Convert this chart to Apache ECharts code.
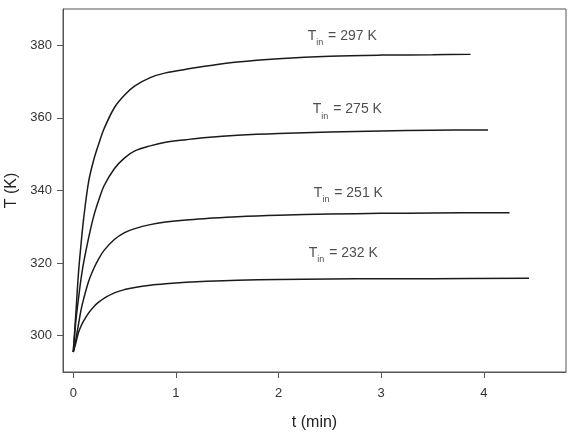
<!DOCTYPE html>
<html>
<head>
<meta charset="utf-8">
<script src="https://cdn.jsdelivr.net/npm/echarts@6/dist/echarts.min.js"></script>
<style>
    html, body { margin: 0; padding: 0; background: #fff; }
    #chart { width: 574px; height: 432px; }
</style>
</head>
<body>
<div id="chart"></div>
<script>
    // time points (min) and temperatures (K) for each inlet temperature
    var tA = [0, 0.025, 0.05, 0.075, 0.1, 0.15, 0.2, 0.25, 0.3, 0.4, 0.5, 0.6, 0.75, 0.9, 1.1, 1.3, 1.6, 2.0, 2.5, 3.0, 3.5, 3.87]
    var tempA = [295.5, 306, 317, 325, 332, 342.5, 348.5, 353, 357, 362.8, 366.3, 368.8, 371.1, 372.4, 373.4, 374.3, 375.4, 376.3, 377, 377.3, 377.4, 377.5]

    var tB = [0, 0.025, 0.05, 0.075, 0.1, 0.15, 0.2, 0.25, 0.3, 0.4, 0.5, 0.6, 0.75, 0.9, 1.1, 1.3, 1.6, 2.0, 2.5, 3.0, 3.5, 4.04]
    var tempB = [295.5, 304, 310, 315.5, 320, 327, 333, 337.5, 341.3, 346, 349, 350.9, 352.3, 353.3, 354, 354.6, 355.2, 355.7, 356.1, 356.4, 356.6, 356.7]

    var tC = [0, 0.025, 0.05, 0.075, 0.1, 0.15, 0.2, 0.25, 0.3, 0.4, 0.5, 0.6, 0.75, 0.9, 1.1, 1.3, 1.6, 2.0, 2.5, 3.0, 3.5, 4.25]
    var tempC = [295.5, 299, 303, 307, 310, 315, 318.5, 321.3, 323.5, 326.5, 328.4, 329.5, 330.6, 331.3, 331.9, 332.3, 332.8, 333.2, 333.5, 333.7, 333.8, 333.9]

    var tD = [0, 0.025, 0.05, 0.075, 0.1, 0.15, 0.2, 0.25, 0.3, 0.4, 0.5, 0.6, 0.75, 0.9, 1.1, 1.3, 1.6, 2.0, 2.5, 3.0, 3.5, 4.44]
    var tempD = [295.5, 298, 300.8, 302.6, 304, 306.3, 308, 309.3, 310.3, 311.8, 312.7, 313.3, 313.9, 314.3, 314.7, 315, 315.3, 315.5, 315.6, 315.7, 315.7, 315.8]

    var inletTemps = ['297', '275', '251', '232']
    var labelAt = [[2.62, 382.5], [2.67, 362.3], [2.68, 339.3], [2.63, 322.7]]

    var xTicks = [0, 1, 2, 3, 4]
    var yTicks = [300, 320, 340, 360, 380]

    function pairs(xs, ys) {
        return xs.map(function (x, i) { return [x, ys[i]] })
    }

    var myChart = echarts.init(document.getElementById('chart'))
    var font = 'Liberation Sans, Arial, sans-serif'

    function curve(xs, ys) {
        return {
            type: 'line',
            data: pairs(xs, ys),
            showSymbol: false,
            smooth: 0.35,
            lineStyle: { color: '#1a1a1a', width: 1.5 },
            silent: true
        }
    }

    var options = {
        animation: false,
        backgroundColor: '#fff',
        grid: {
            left: 63, right: 8, top: 9, bottom: 60,
            outerBoundsMode: 'none',
            containLabel: false,
            show: true,
            borderColor: '#555',
            borderWidth: 1
        },
        xAxis: {
            type: 'value',
            min: -0.1,
            max: 4.8,
            name: 't (min)',
            nameLocation: 'middle',
            nameGap: 43,
            nameTextStyle: { fontFamily: font, fontSize: 16, color: '#222' },
            axisLine: { onZero: false, lineStyle: { color: '#555' } },
            axisTick: { show: true, length: 6, customValues: xTicks, lineStyle: { color: '#555' } },
            axisLabel: { customValues: xTicks, margin: 15, fontFamily: font, fontSize: 13, color: '#333' },
            splitLine: { show: false }
        },
        yAxis: {
            type: 'value',
            min: 290,
            max: 390,
            name: 'T (K)',
            nameLocation: 'middle',
            nameGap: 41,
            nameTextStyle: { fontFamily: font, fontSize: 16, color: '#222' },
            axisLine: { onZero: false, lineStyle: { color: '#555' } },
            axisTick: { show: true, length: 6, customValues: yTicks, lineStyle: { color: '#555' } },
            axisLabel: { customValues: yTicks, margin: 11, fontFamily: font, fontSize: 13, color: '#333' },
            splitLine: { show: false }
        },
        series: [
            curve(tA, tempA),
            curve(tB, tempB),
            curve(tC, tempC),
            curve(tD, tempD),
            {
                type: 'scatter',
                data: labelAt,
                symbolSize: 0,
                silent: true,
                label: {
                    show: true,
                    position: 'inside',
                    formatter: function (p) {
                        return '{b|T}{s|in}{b| = ' + inletTemps[p.dataIndex] + ' K}'
                    },
                    rich: {
                        b: { fontFamily: font, fontSize: 14, color: '#222', verticalAlign: 'bottom' },
                        s: { fontFamily: font, fontSize: 9, color: '#222', verticalAlign: 'bottom', padding: [0, 1, -4, 0] }
                    }
                }
            }
        ]
    }
    myChart.setOption(options)
    window.addEventListener('resize', myChart.resize)
</script>
</body>
</html>
